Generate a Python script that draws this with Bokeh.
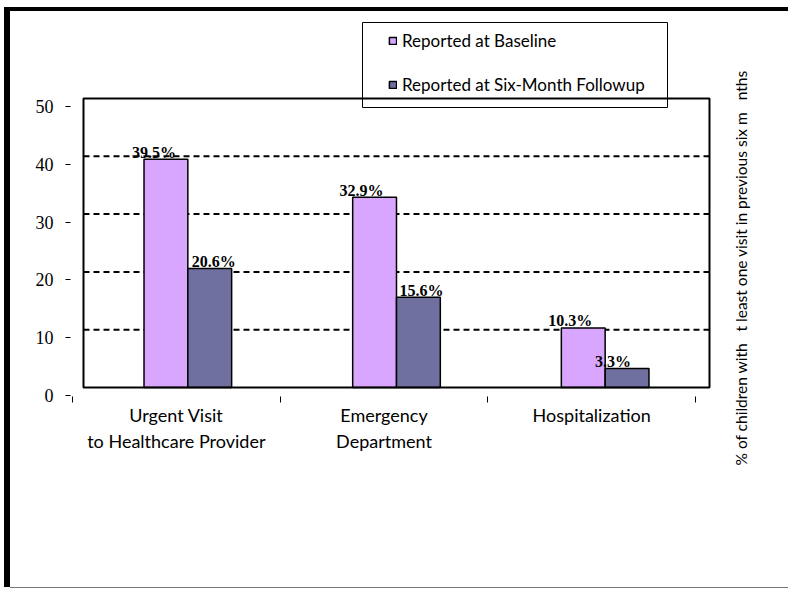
from bokeh.plotting import figure
from bokeh.layouts import row
from bokeh.models import (ColumnDataSource, Range1d, LinearAxis, FixedTicker,
                          Legend, LegendItem, BoxAnnotation, Title)
from bokeh.core.properties import value
from bokeh.embed import file_html
from bokeh.resources import INLINE

# ---- data ----
categories = ["Urgent Visit\nto Healthcare Provider", "Emergency\nDepartment", "Hospitalization"]
baseline = [39.5, 32.9, 10.3]
followup = [20.6, 15.6, 3.3]
baseline_labels = ["39.5%", "32.9%", "10.3%"]
followup_labels = ["20.6%", "15.6%", "3.3%"]
y_ticks = [0, 10, 20, 30, 40, 50]
grid_values = [10, 20, 30, 40]
series_names = ["Reported at Baseline", "Reported at Six-Month Followup"]
y_title = "% of children with\u00a0\u00a0\u00a0t least one visit in previous six m\u00a0\u00a0\u00a0nths"

# ---- styles / layout ----
C_BASE = "#D8A6FE"
C_FOLL = "#6F6FA0"
BAR_W = 0.21
SERIF = "Liberation Serif"
SANS = "Lato"
OX, OY = 10, 11          # figure offset inside the page (outer frame)
SPLIT = 712              # page x where the side-title strip begins
H = 589 - OY - 2


def cx(v):
    return v - OX


def cy(v):
    return v - OY


p = figure(width=SPLIT - OX, height=H, output_backend="svg", toolbar_location=None,
           x_axis_location=None, y_axis_location=None,
           x_range=Range1d(-0.0623, 3.0144), y_range=Range1d(-1.557, 65.052),
           min_border_left=cx(70), min_border_right=0, min_border_top=0,
           min_border_bottom=H - cy(396))
p.outline_line_color = None
p.xgrid.visible = False
p.ygrid.visible = False
p.background_fill_color = "white"
p.border_fill_color = "white"

p.extra_x_ranges = {"ax": Range1d(-0.00963, 3.0818)}
p.extra_y_ranges = {"ax": Range1d(-0.173, 66.436)}

yaxis = LinearAxis(y_range_name="ax", ticker=FixedTicker(ticks=y_ticks, minor_ticks=[]),
                   axis_line_color=None, major_tick_in=0, major_tick_out=5,
                   major_tick_line_color="black", minor_tick_line_color=None,
                   major_label_text_font=SERIF, major_label_text_font_size="18px",
                   major_label_text_color="black", major_label_standoff=12)
p.add_layout(yaxis, "left")

centers = [i + 0.5 for i in range(len(categories))]
bounds = list(range(len(categories) + 1))
xaxis = LinearAxis(x_range_name="ax", ticker=FixedTicker(ticks=centers, minor_ticks=bounds),
                   major_label_overrides={c: name for c, name in zip(centers, categories)},
                   axis_line_color=None, major_tick_line_color=None,
                   major_tick_in=0, major_tick_out=0,
                   minor_tick_in=0, minor_tick_out=6, minor_tick_line_color="black",
                   major_label_text_font=SANS, major_label_text_font_size="18px",
                   major_label_text_color="black", major_label_standoff=1)
p.add_layout(xaxis, "below")

# dashed gridlines
p.segment(x0=[0] * len(grid_values), x1=[len(categories)] * len(grid_values),
          y0=grid_values, y1=grid_values, line_color="black", line_width=2, line_dash="6 4")

src = ColumnDataSource(dict(
    xb=[c - BAR_W / 2 for c in centers], xf=[c + BAR_W / 2 for c in centers],
    base=baseline, foll=followup, lb=baseline_labels, lf=followup_labels,
    ob=[-12, -13, -13], of=[4, 3, -14]))

r1 = p.vbar(x="xb", top="base", width=BAR_W, source=src, fill_color=C_BASE,
            line_color="black", line_width=1.5)
r2 = p.vbar(x="xf", top="foll", width=BAR_W, source=src, fill_color=C_FOLL,
            line_color="black", line_width=1.5)

p.text(x="xb", y="base", text="lb", source=src, x_offset="ob", y_offset=-7,
       text_align="center", text_baseline="alphabetic", text_font=value(SERIF),
       text_font_style="bold", text_font_size="16px", text_color="black")
p.text(x="xf", y="foll", text="lf", source=src, x_offset="of", y_offset=-7,
       text_align="center", text_baseline="alphabetic", text_font=value(SERIF),
       text_font_style="bold", text_font_size="16px", text_color="black")

# plot box
p.quad(left=0, right=len(categories), bottom=0, top=50, fill_color=None,
       line_color="black", line_width=2)

legend = Legend(items=[LegendItem(label=series_names[0], renderers=[r1]),
                       LegendItem(label=series_names[1], renderers=[r2])],
                location=(388 - 70, 396 - 95), padding=0, margin=0, border_line_color=None,
                background_fill_alpha=0, glyph_width=9, glyph_height=9,
                label_height=20, spacing=23, label_standoff=5,
                label_text_font=SANS, label_text_font_size="17px",
                label_text_color="black")
p.add_layout(legend)

p.add_layout(BoxAnnotation(left=cx(362), right=cx(667), top=cy(22), bottom=cy(107),
                           left_units="canvas", right_units="canvas",
                           top_units="canvas", bottom_units="canvas",
                           fill_alpha=0, line_color="black", line_alpha=1, line_width=1))

# side-title strip
p2 = figure(width=788 - SPLIT, height=H, output_backend="svg", toolbar_location=None,
            x_axis_location=None, y_axis_location=None,
            min_border_left=42, min_border_right=0, min_border_top=0, min_border_bottom=0)
p2.outline_line_color = None
p2.xgrid.visible = False
p2.ygrid.visible = False
p2.border_fill_color = "white"
p2.add_layout(Title(text=y_title, align="left", offset=-69, standoff=10,
                    text_font=SANS, text_font_size="15.5px", text_font_style="normal",
                    text_color="black"), "left")

layout = row(p, p2, spacing=0)
layout.margin = (OY, 0, 0, OX)
layout.styles = {"box-shadow": "-6px 0 0 0 #000000, 0 -4px 0 0 #000000, -6px -4px 0 0 #000000, 0 1px 0 0 #777777"}

open("out.html", "w").write(file_html(layout, INLINE))
